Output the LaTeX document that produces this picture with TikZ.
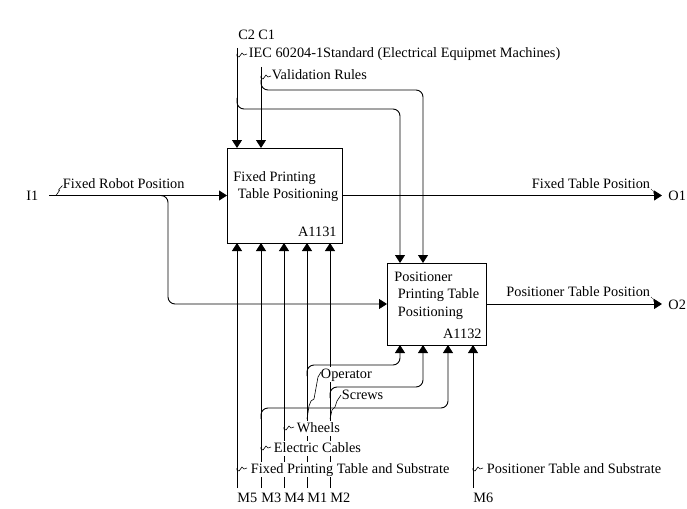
\documentclass[tikz,border=0pt]{standalone}
\usepackage{fontspec}
\setmainfont{Liberation Serif}
\usetikzlibrary{arrows.meta}
\begin{document}
\begin{tikzpicture}[x=1pt,y=-1pt,
  font=\fontsize{14.3}{16}\selectfont,
  line width=0.9pt,
  box/.style={draw, line width=0.9pt, inner sep=0pt, outer sep=0pt, anchor=north west},
  arr/.style={-{Triangle[length=8pt,width=10pt]}},
  rc/.style={rounded corners=7pt},
  txt/.style={anchor=base west, inner sep=0pt},
  txte/.style={anchor=base east, inner sep=0pt},
  lbl/.style={anchor=base west, inner xsep=0.5pt, inner ysep=1pt, fill=white, text height=10pt, text depth=3pt},
  lble/.style={anchor=base east, inner xsep=0.5pt, inner ysep=1pt, fill=white, text height=10pt, text depth=3pt},
  sq/.style={line width=0.6pt},
  sqd/.style={line width=0.5pt, dash pattern=on 1pt off 1pt},
  squig/.pic={\draw[sq] (0,-1) -- (0,1) -- (2,2) -- (5,-2) -- (7,0) -- (10,-1);}
]
\useasboundingbox (0,0) rectangle (687,508);
\fill[white] (0,0) rectangle (687,508);

% boxes
\node[box, minimum width=115pt, minimum height=95pt] (b1) at (227,148) {};
\node[box, minimum width=99pt, minimum height=82pt] (b2) at (387,263) {};

% box texts
\node[txt] (b1t1) at (233,181) {Fixed Printing};
\node[txt] (b1t2) at (237.5,198) {Table Positioning};
\node[txte] (b1n) at (337,236) {A1131};
\node[txt] (b2t1) at (394,281) {Positioner};
\node[txt] (b2t2) at (397.5,298) {Printing Table};
\node[txt] (b2t3) at (397.5,316) {Positioning};
\node[txte] (b2n) at (482,338) {A1132};

% coordinates
\coordinate (i1) at (49,195.5);
\coordinate (i1s) at (155,195.5);
\coordinate (o1) at (662,195.5);
\coordinate (o2) at (662,304);
\coordinate (c2) at (237,48);
\coordinate (c1) at (261,67);
\coordinate (m5) at (237,488);
\coordinate (m3) at (261,488);
\coordinate (m4) at (284,488);
\coordinate (m1) at (307,488);
\coordinate (m2) at (330,488);
\coordinate (m6) at (473,488);

% inputs
\draw[arr] (i1) -- (b1.west);
\draw[arr, rc] (i1s) -- (168,195.5) -- (168,304) -- (b2.west);

% outputs
\draw[arr] (b1.east) -- (o1);
\draw[arr] (b2.east) -- (o2);

% controls
\draw[arr] (c2) -- (c2 |- b1.north);
\draw[arr] (c1) -- (c1 |- b1.north);
\draw[arr, rc] (237,98) -- (237,109) -- (400,109) -- (400,263);
\draw[arr, rc] (261,80) -- (261,90) -- (423,90) -- (423,263);

% mechanisms
\draw[arr] (m5) -- (m5 |- b1.south);
\draw[arr] (m3) -- (m3 |- b1.south);
\draw[arr] (m4) -- (m4 |- b1.south);
\draw[arr] (m1) -- (m1 |- b1.south);
\draw[arr] (m2) -- (m2 |- b1.south);
\draw[arr] (m6) -- (m6 |- b2.south);
\draw[arr, rc] (307,376) -- (307,365) -- (400,365) -- (400,345);
\draw[arr, rc] (330,398) -- (330,387) -- (423,387) -- (423,345);
\draw[arr, rc] (261,419) -- (261,408) -- (448,408) -- (448,345);

% labels
\node[txt] (lI1) at (26,200) {I1};
\node[txt] (lO1) at (668,200) {O1};
\node[txt] (lO2) at (668,309) {O2};
\node[txt] (lC2) at (238,40) {C2};
\node[txt] (lC1) at (258,40) {C1};
\node[txt] (lM5) at (237,502) {M5};
\node[txt] (lM3) at (261,502) {M3};
\node[txt] (lM4) at (284,502) {M4};
\node[txt] (lM1) at (307,502) {M1};
\node[txt] (lM2) at (330,502) {M2};
\node[txt] (lM6) at (473,502) {M6};

\node[lbl] (frp) at (62,188) {Fixed Robot Position};
\node[lble] (ftp) at (651,188) {Fixed Table Position};
\node[lble] (ptp) at (651,296) {Positioner Table Position};
\node[lbl] (iec) at (248,58) {IEC 60204-1Standard (Electrical Equipmet Machines)};
\node[lbl] (val) at (271,80) {Validation Rules};
\node[lbl] (opr) at (320,378) {Operator};
\node[lbl] (scr) at (341,399) {Screws};
\node[lbl] (whl) at (296,432) {Wheels};
\node[lbl] (ecb) at (273,452) {Electric Cables};
\node[lbl] (fpt) at (250,473) {Fixed Printing Table and Substrate};
\node[lbl] (pts) at (486,473) {Positioner Table and Substrate};

% squiggles
\pic at (237,55) {squig};
\pic at (261,77) {squig};
\pic at (284,428) {squig};
\pic at (261,448) {squig};
\pic at (237,469) {squig};
\pic at (473,469) {squig};
\draw[sq] (56,195.5) -- (59.5,190.5) -- (58.5,190) -- (62.5,185.5);
\draw[sqd] (651,189) -- (654,191.5) -- (653,192.5) -- (657,196);
\draw[sqd] (651,297) -- (654,299.5) -- (653,300.5) -- (657,304);
\draw[sq] (307,419) -- (309,406) -- (311,401) -- (314,399) -- (316,388) -- (318,377) -- (321,372);
\draw[sq] (330,419) -- (332,410) -- (335,407) -- (337,401) -- (341,395);
\end{tikzpicture}
\end{document}
